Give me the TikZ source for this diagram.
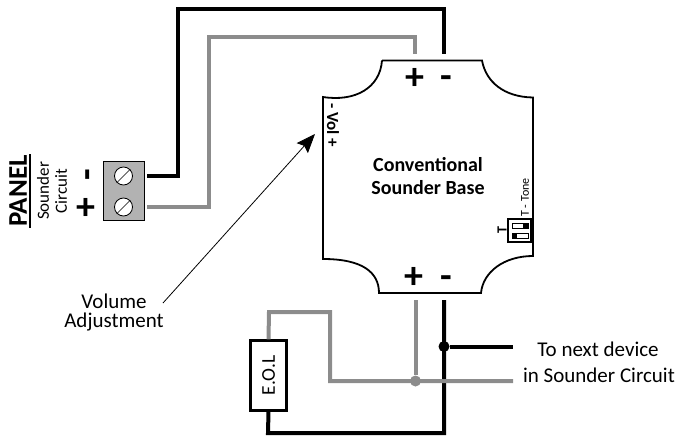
\documentclass[tikz,border=0pt]{standalone}
\usepackage{fontspec}
\setmainfont{Carlito}
\usetikzlibrary{arrows.meta,positioning}
\tikzset{
  blackwire/.style={line width=4pt,black},
  greywire/.style={line width=4pt,gray!90},
  outline/.style={line width=1.8pt,black},
  screw/.style={circle,draw,line width=0.8pt,fill=white,minimum size=18pt,inner sep=0pt},
  sign/.style={font=\fontsize{38}{38}\selectfont\bfseries,inner sep=0pt},
  junction/.style={circle,inner sep=0pt,minimum size=11pt},
  label/.style={font=\fontsize{21}{19}\selectfont,align=center,inner sep=0pt},
}
\begin{document}
\begin{tikzpicture}[x=1pt,y=-1pt]
\useasboundingbox (0,0) rectangle (678,436);

% sounder base
\draw[outline] (382,60.5)--(482,60.5) .. controls (486,82) and (504,97) .. (533,97.5)
  --(533,256) .. controls (504,256) and (483,272) .. (481,293)--(379,293)
  .. controls (379,272) and (362,259) .. (323,259)--(323,97)
  .. controls (355,102) and (380,88) .. (382,60.5);
\node[font=\fontsize{20}{23}\selectfont\bfseries,align=center,inner sep=0pt] (base) at (428,176.5) {Conventional\\Sounder Base};
\node[sign] (topplus) at (414.5,79) {+};
\node[sign] (topminus) at (446,82) {-};
\node[sign] (botplus) at (414,278) {+};
\node[sign] (botminus) at (446,282) {-};
\node[rotate=-90,font=\fontsize{17}{17}\selectfont\bfseries,inner sep=0pt] (vol) at (333,125) {- Vol +};

% tone switch
\node[rotate=90,font=\fontsize{12}{12}\selectfont,inner sep=0pt] (tone) at (525,197.5) {T - Tone};
\node[draw,line width=1.5pt,fill=white,minimum width=23pt,minimum height=23pt,inner sep=0pt] (switch) at (519.5,230.5) {};
\draw[line width=0.7pt] (512,223) rectangle (528,228);
\fill (523,223) rectangle (528,228);
\draw[line width=0.7pt] (512,233) rectangle (528,238);
\fill (512,233) rectangle (517,238);
\node[rotate=90,font=\fontsize{14}{14}\selectfont\bfseries,inner sep=0pt] (tlabel) at (502,230) {T};

% panel terminal
\node[draw,line width=0.9pt,fill=gray!60,minimum width=41pt,minimum height=59pt,inner sep=0pt] (block) at (124,190.5) {};
\node[screw] (screwa) at (123.5,176) {};
\node[screw] (screwb) at (123.5,207) {};
\draw[line width=0.7pt] (screwa.225)--(screwa.45);
\draw[line width=0.7pt] (screwb.225)--(screwb.45);
\node[sign,rotate=90] (panelminus) at (92,174.5) {-};
\node[sign] (panelplus) at (86,209) {+};
\node[rotate=90,font=\fontsize{17}{18}\selectfont,align=center,inner sep=0pt] (circuit) at (52,191) {Sounder\\Circuit};
\node[rotate=90,font=\fontsize{27}{27}\selectfont\bfseries,inner sep=0pt] (panel) at (18,191) {PANEL};
\draw[line width=1.5pt] (30,154)--(30,228);

% wires to panel
\coordinate (toppluspin) at (415,54);
\coordinate (topminuspin) at (444,54);
\coordinate (aout) at (147,176);
\coordinate (bout) at (147,207);
\draw[blackwire] (aout)--(178,176)--(178,9)--(444,9)--(topminuspin);
\draw[greywire] (bout)--(209,207)--(209,37)--(415,37)--(toppluspin);

% volume
\node[label] (volume) at (114,312.5) {Volume\\Adjustment};
\coordinate (volarrow) at (315,134);
\draw[line width=0.8pt,-{Stealth[length=19pt,width=15pt,inset=3pt]}] (163,303)--(volarrow);

% end of line
\node[draw,line width=2.4pt,fill=white,minimum width=36pt,minimum height=70pt,inner sep=0pt] (eol) at (268.5,375.5) {};
\node[rotate=90,font=\fontsize{19.5}{19.5}\selectfont,inner sep=0pt] (eoltext) at (eol) {E.O.L};
\coordinate (botpluspin) at (415.5,300);
\coordinate (botminuspin) at (444,300);
\node[junction,fill=gray!90] (greydot) at (415.5,381) {};
\node[junction,fill=black] (blackdot) at (444,346.5) {};
\coordinate (nextblack) at (513,346.5);
\coordinate (nextgrey) at (513,381);
\draw[blackwire] (botminuspin)--(444,433)--(268,433)--(eol.south);
\draw[greywire] (eol.north)--(269,312)--(330,312)--(330,381)--(nextgrey);
\draw[greywire] (botpluspin)--(greydot);
\draw[blackwire] (botminuspin)--(blackdot)--(nextblack);
\node[label] (next) at (598,349) {To next device};
\node[label] (circ) at (599,375) {in Sounder Circuit};
\end{tikzpicture}
\end{document}
